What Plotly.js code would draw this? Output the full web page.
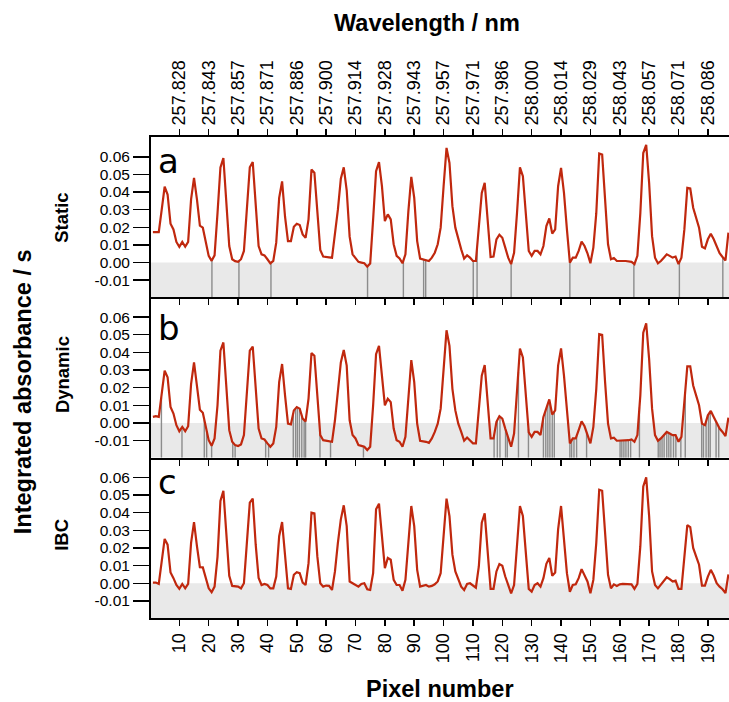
<!DOCTYPE html>
<html><head><meta charset="utf-8">
<script src="https://cdn.plot.ly/plotly-3.0.1.min.js"></script>
<style>html,body{margin:0;padding:0;background:#fff}</style>
</head><body><div id="chart" style="width:729px;height:702px"></div>
<script>
// Integrated absorbance per pixel (pixel 1..197)
const staticSeries = [
0.0173,0.0173,0.0173,0.030,0.043,0.0386,0.022,0.0188,0.0117,0.0089,
0.0117,0.009,0.0117,0.0358,0.048,0.0358,0.021,0.0198,0.0113,0.0038,
0.001,0.0041,0.028,0.054,0.0593,0.034,0.0094,0.0019,0.0008,0.0004,
0.0019,0.0066,0.030,0.054,0.057,0.032,0.0094,0.0047,0.0041,0.0019,
-0.0004,0.001,0.0113,0.0367,0.046,0.026,0.0122,0.0122,0.0203,0.022,
0.0213,0.016,0.014,0.0245,0.0527,0.051,0.030,0.0072,0.0034,0.003,
0.003,0.0028,0.015,0.030,0.0475,0.054,0.041,0.0147,0.0047,0.0028,
0.0004,0.0,-0.0004,-0.0023,-0.0006,0.0245,0.0518,0.057,0.0433,0.0235,
0.0273,0.0245,0.0104,0.0038,0.0023,-0.0004,0.0047,0.029,0.0486,0.0367,
0.0122,0.0023,0.0019,0.0015,0.0009,0.0028,0.0056,0.0104,0.0198,0.0433,
0.065,0.0565,0.032,0.0198,0.0132,0.0075,0.0023,0.0041,0.0028,0.0009,
0.0009,0.0207,0.0395,0.0452,0.0264,0.0032,0.0034,0.0132,0.0158,0.0141,
0.0085,0.0028,-0.0009,0.0056,0.028,0.054,0.049,0.0264,0.0066,0.0038,
0.0066,0.0066,0.0047,0.0094,0.0207,0.025,0.0164,0.0188,0.0433,0.0537,
0.0395,0.0188,0.0,0.0028,0.0028,0.0066,0.0119,0.0094,0.0053,-0.0004,
0.0085,0.028,0.0618,0.0612,0.0377,0.0104,0.0019,0.0026,0.0009,0.0011,
0.0009,0.0009,0.0008,0.0004,-0.0009,0.0038,0.028,0.0621,0.0668,0.0452,
0.015,0.0028,-0.0004,0.0009,0.0028,0.0047,0.0038,0.0028,0.0034,-0.0009,
0.0028,0.0188,0.0424,0.042,0.0311,0.026,0.0198,0.009,0.0081,0.0132,
0.0164,0.0132,0.0094,0.0053,0.0032,0.0012,0.017
];
const dynamicSeries = [
0.0034,0.0038,0.0034,0.0156,0.0296,0.0259,0.009,0.0053,-0.0013,-0.0047,
-0.0023,-0.0047,-0.0019,0.022,0.0343,0.021,0.0075,0.0058,-0.0023,-0.0098,
-0.013,-0.0088,0.010,0.041,0.0456,0.021,-0.0041,-0.0107,-0.0126,-0.0131,
-0.0122,-0.0069,0.0156,0.041,0.0433,0.0193,-0.0032,-0.0088,-0.0094,-0.0116,
-0.0135,-0.0116,-0.0023,0.0231,0.0334,0.0156,-0.0004,-0.0008,0.0071,0.009,
0.0081,0.0024,0.0009,0.0137,0.0396,0.0381,0.0156,-0.0069,-0.0098,-0.0101,
-0.0101,-0.0107,0.0015,0.0174,0.0343,0.0413,0.0325,0.0015,-0.0069,-0.0088,
-0.0126,-0.013,-0.0135,-0.0154,-0.0135,0.010,0.039,0.0437,0.0268,0.010,
0.0137,0.0118,-0.0032,-0.0098,-0.0107,-0.0135,-0.0079,0.0156,0.0356,0.0231,
-0.0004,-0.0101,-0.0103,-0.0107,-0.0113,-0.0088,-0.0051,-0.0004,0.0081,0.0287,
0.0525,0.0437,0.0193,0.0071,-0.0004,-0.0051,-0.0101,-0.0083,-0.0098,-0.0116,
-0.0116,0.009,0.0268,0.0328,0.0118,-0.0088,-0.0088,0.0006,0.0038,0.0024,
-0.0032,-0.0088,-0.0135,-0.006,0.0156,0.0422,0.0371,0.0156,-0.0054,-0.0079,
-0.0051,-0.0051,-0.0069,0.0034,0.009,0.0133,0.0047,0.0071,0.0325,0.0422,
0.0268,0.0062,-0.0116,-0.0088,-0.0088,-0.0041,0.0009,-0.0019,-0.0069,-0.0116,
-0.0023,0.0193,0.0503,0.0499,0.0231,-0.0004,-0.0088,-0.0084,-0.0101,-0.0101,
-0.0101,-0.0101,-0.0098,-0.0094,-0.0107,-0.0069,0.0156,0.0512,0.0565,0.0362,
0.0081,-0.0069,-0.0101,-0.0088,-0.0069,-0.0051,-0.006,-0.0069,-0.0069,-0.0107,
-0.0079,0.010,0.0321,0.0321,0.0212,0.0156,0.010,-0.0004,-0.0013,0.0043,
0.0068,0.0034,-0.0004,-0.0032,-0.0051,-0.0075,0.003
];
const ibcSeries = [
0.0004,0.0004,-0.0004,0.0114,0.0251,0.0219,0.0061,0.0029,-0.001,-0.0032,
-0.0004,-0.0029,-0.0004,0.0229,0.0347,0.021,0.0091,0.009,0.0029,-0.0029,
-0.0051,-0.0019,0.015,0.0467,0.0524,0.0286,0.0042,-0.0015,-0.0019,-0.0019,
-0.0029,0.0,0.0229,0.0457,0.048,0.022,0.003,-0.001,-0.0004,-0.001,
-0.0029,-0.0029,0.0038,0.0267,0.0347,0.0171,-0.0029,-0.0032,0.0048,0.0063,
0.0057,0.0004,-0.001,0.0114,0.040,0.0396,0.0152,0.0,-0.0019,-0.0013,
-0.0015,-0.0038,0.0067,0.0229,0.0362,0.0442,0.0324,0.001,0.0,-0.001,
-0.0019,-0.0004,0.0,-0.0034,-0.0038,0.0057,0.0419,0.0451,0.0248,0.0086,
0.0143,0.0133,0.0019,-0.001,-0.001,-0.0042,0.0019,0.0229,0.0438,0.0324,
0.0076,-0.0019,-0.0015,-0.001,-0.0019,-0.0015,-0.0006,0.001,0.0057,0.0286,
0.048,0.0381,0.0162,0.0067,0.0019,-0.0019,-0.0038,-0.0004,0.0,-0.0015,
-0.0025,0.0095,0.0343,0.0396,0.0171,-0.0032,-0.0032,0.0067,0.0109,0.0099,
0.0038,-0.001,-0.0057,-0.001,0.0229,0.0438,0.0381,0.0152,-0.0032,-0.0048,
-0.001,0.0,-0.0019,0.0029,0.011,0.0143,0.0042,0.0061,0.0305,0.0438,
0.0267,0.0057,-0.0048,-0.001,-0.0006,0.0029,0.008,0.0048,0.001,-0.0057,
0.0019,0.0229,0.053,0.0524,0.0286,0.0048,-0.0029,-0.0006,-0.0015,-0.0006,
-0.0004,-0.0006,-0.0006,-0.0006,-0.0032,-0.0004,0.021,0.0549,0.060,0.0381,
0.0067,-0.001,-0.0029,-0.001,0.001,0.0034,0.0023,0.001,0.0015,-0.0032,
-0.0032,0.0152,0.033,0.0318,0.020,0.0152,0.0105,-0.0013,-0.0013,0.0038,
0.0076,0.0044,0.0,-0.0019,-0.0034,-0.0056,0.005
];
// Pixel positions marked by grey drop lines
const staticFlags = [21.1,30.3,41.2,74.1,86.3,93.2,93.9,110.1,111.4,123,143,164.8,180.3,195.1];
const dynamicFlags = [3.9,10.9,18.5,19.3,21,28.2,29,39.4,40.4,48.8,49.6,50.2,50.9,51.7,52.5,53,
  57.9,61.5,72.7,117.2,118.3,119.2,121.1,121.7,125.5,128.9,134,134.8,135.5,136.2,137,137.7,
  143,143.6,144.4,145.3,148.7,160.1,160.7,161.4,162.1,162.9,163.7,166.7,
  173.1,173.7,174.4,175.1,176,176.7,177.4,178.3,179.1,180.8,182.3,187.9,188.5,189.4,190.2,190.8,192.8,193.7];
const ibcFlags = [];

const pixelTicks = [10,20,30,40,50,60,70,80,90,100,110,120,130,140,150,160,170,180,190];
const wavelengthLabels = ['257.828','257.843','257.857','257.871','257.886','257.900','257.914','257.928',
  '257.943','257.957','257.971','257.986','258.000','258.014','258.029','258.043','258.057','258.071','258.086'];
const yTickVals = [-0.01,0,0.01,0.02,0.03,0.04,0.05,0.06];
const yTickText = ['-0.01','0.00','0.01','0.02','0.03','0.04','0.05','0.06'];
const panelNames = ['Static','Dynamic','IBC'];
const panelLetters = ['a','b','c'];

const pixels = staticSeries.map((_, i) => i + 1);
const X_RANGE = [0.35, 197.2];
const Y_RANGE = [-0.0197, 0.0712];
const RED = '#c0280e';
const FLAG = '#8c8c8c';
const BAND = '#e9e9e9';
const FONT = 'Liberation Sans, Arial, Helvetica, sans-serif';

function valueAt(series, p) {
  const i = Math.floor(p);
  const f = p - i;
  const v0 = series[Math.max(0, i - 1)];
  const v1 = series[Math.min(series.length - 1, i)];
  return v0 + (v1 - v0) * f;
}

const panels = [
  {series: staticSeries, flags: staticFlags, xa: 'x3', ya: 'y'},
  {series: dynamicSeries, flags: dynamicFlags, xa: 'x2', ya: 'y2'},
  {series: ibcSeries, flags: ibcFlags, xa: 'x', ya: 'y3'}
];

const traces = [];
const shapes = [];
panels.forEach(pn => {
  shapes.push({type: 'rect', xref: pn.xa + ' domain', yref: pn.ya, x0: 0, x1: 1,
    y0: Y_RANGE[0], y1: 0, fillcolor: BAND, line: {width: 0}, layer: 'below'});
  if (pn.flags.length) {
    const fx = [], fy = [];
    pn.flags.forEach(p => { fx.push(p, p, null); fy.push(Y_RANGE[0], valueAt(pn.series, p), null); });
    traces.push({x: fx, y: fy, xaxis: pn.xa, yaxis: pn.ya, mode: 'lines',
      line: {color: FLAG, width: 1.4}, hoverinfo: 'skip', connectgaps: false});
  }
  traces.push({x: pixels, y: pn.series, xaxis: pn.xa, yaxis: pn.ya, mode: 'lines',
    line: {color: RED, width: 2.2}});
});
traces.push({x: [], y: [], xaxis: 'x4', yaxis: 'y', mode: 'lines'});

const xCommon = {range: X_RANGE, showgrid: false, zeroline: false, showline: true, linecolor: 'black',
  linewidth: 2, ticks: 'outside', ticklen: 6, tickwidth: 1.5, tickcolor: 'black', tickvals: pixelTicks,
  tickfont: {family: FONT, size: 18, color: 'black'}, fixedrange: true};
const yCommon = {range: Y_RANGE, showgrid: false, zeroline: false, showline: true, linecolor: 'black',
  linewidth: 2, ticks: 'outside', ticklen: 16, tickwidth: 1.5, tickcolor: 'black',
  tickvals: yTickVals, ticktext: yTickText, tickfont: {family: FONT, size: 15.5, color: 'black'}, fixedrange: true};

const layout = {
  width: 729, height: 702,
  margin: {l: 151, r: 0, t: 137, b: 84},
  paper_bgcolor: 'white', plot_bgcolor: 'white',
  showlegend: false,
  font: {family: FONT, size: 18, color: 'black'},
  xaxis: Object.assign({}, xCommon, {anchor: 'y3', ticktext: pixelTicks.map(String), tickangle: -90}),
  xaxis2: Object.assign({}, xCommon, {anchor: 'y2', showticklabels: false}),
  xaxis3: Object.assign({}, xCommon, {anchor: 'y', showticklabels: false}),
  xaxis4: Object.assign({}, xCommon, {anchor: 'y', overlaying: 'x3', side: 'top', ticktext: wavelengthLabels, tickangle: -90}),
  yaxis: Object.assign({}, yCommon, {domain: [2/3, 1], anchor: 'x3'}),
  yaxis2: Object.assign({}, yCommon, {domain: [1/3, 2/3], anchor: 'x2'}),
  yaxis3: Object.assign({}, yCommon, {domain: [0, 1/3], anchor: 'x'}),
  shapes: shapes,
  annotations: [
    {text: 'Wavelength / nm', xref: 'paper', yref: 'paper', x: 0.478, y: 1.237, showarrow: false,
      font: {family: FONT, size: 23.5, weight: 'bold'}, xanchor: 'center', yanchor: 'middle'},
    {text: 'Pixel number', xref: 'paper', yref: 'paper', x: 0.5, y: -0.148, showarrow: false,
      font: {family: FONT, size: 23.5, weight: 'bold'}, xanchor: 'center', yanchor: 'middle'},
    {text: 'Integrated absorbance / s', xref: 'paper', yref: 'paper', x: -0.221, y: 0.47, showarrow: false,
      textangle: -90, font: {family: FONT, size: 23.5, weight: 'bold'}, xanchor: 'center', yanchor: 'middle'},
    {text: panelNames[0], xref: 'paper', yref: 'paper', x: -0.154, y: 0.832, showarrow: false,
      textangle: -90, font: {family: FONT, size: 18.5, weight: 'bold'}, xanchor: 'center', yanchor: 'middle'},
    {text: panelNames[1], xref: 'paper', yref: 'paper', x: -0.154, y: 0.507, showarrow: false,
      textangle: -90, font: {family: FONT, size: 18.5, weight: 'bold'}, xanchor: 'center', yanchor: 'middle'},
    {text: panelNames[2], xref: 'paper', yref: 'paper', x: -0.154, y: 0.173, showarrow: false,
      textangle: -90, font: {family: FONT, size: 18.5, weight: 'bold'}, xanchor: 'center', yanchor: 'middle'},
    {text: panelLetters[0], xref: 'paper', yref: 'y domain', x: 0, y: 1, xshift: 5, yshift: -2, showarrow: false,
      font: {family: 'DejaVu Sans, sans-serif', size: 34}, xanchor: 'left', yanchor: 'top'},
    {text: panelLetters[1], xref: 'paper', yref: 'y2 domain', x: 0, y: 1, xshift: 5, yshift: -9, showarrow: false,
      font: {family: 'DejaVu Sans, sans-serif', size: 34}, xanchor: 'left', yanchor: 'top'},
    {text: panelLetters[2], xref: 'paper', yref: 'y3 domain', x: 0, y: 1, xshift: 5, yshift: -2, showarrow: false,
      font: {family: 'DejaVu Sans, sans-serif', size: 34}, xanchor: 'left', yanchor: 'top'}
  ]
};

Plotly.newPlot('chart', traces, layout, {displayModeBar: false, staticPlot: true});
</script>
</body></html>
